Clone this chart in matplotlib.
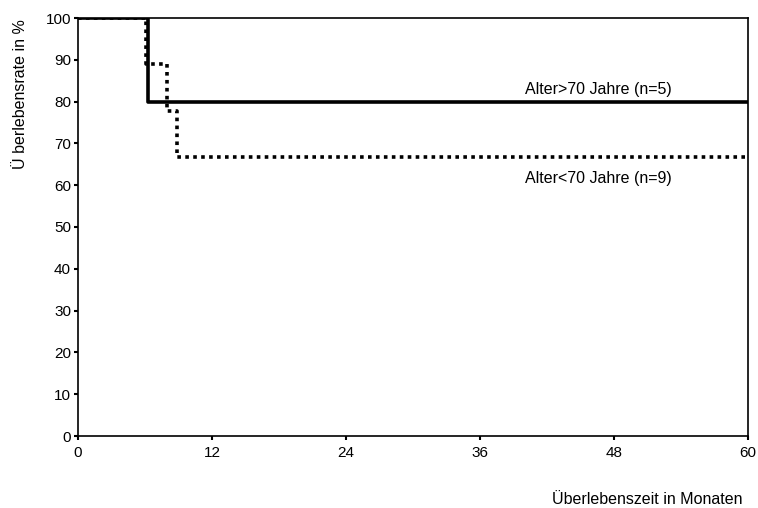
import matplotlib
matplotlib.use("Agg")
import matplotlib.pyplot as plt

plt.rcParams['font.family'] = ['Liberation Sans', 'DejaVu Sans']

# Kaplan-Meier step data (months, survival %)
t_old = [0, 6.3, 60]
s_old = [100, 80, 80]
t_young = [0, 6.1, 8.0, 8.9, 60]
s_young = [100, 88.9, 77.8, 66.7, 66.7]

label_old = "Alter>70 Jahre (n=5)"
label_young = "Alter<70 Jahre (n=9)"
xticks = [0, 12, 24, 36, 48, 60]
yticks = [0, 10, 20, 30, 40, 50, 60, 70, 80, 90, 100]

fig = plt.figure(figsize=(7.58, 5.08), dpi=100)
ax = fig.add_axes([78/758, 1-436/508, (748-78)/758, (436-18)/508])

ax.step(t_young, s_young, where='post', color='black', lw=2.6,
        linestyle=(0, (1, 1.2)))
ax.step(t_old, s_old, where='post', color='black', lw=2.6)

ax.set_xlim(0, 60)
ax.set_ylim(0, 100)
ax.set_xticks(xticks)
ax.set_yticks(yticks)
ax.tick_params(direction='out', length=3, width=1.5, labelsize=11, pad=2)
ax.tick_params(axis='x', pad=4)
for sp in ax.spines.values():
    sp.set_linewidth(1.2)

ax.text(46.6, 82.8, label_old, ha='center', va='center', fontsize=11.5)
ax.text(46.6, 61.7, label_young, ha='center', va='center', fontsize=11.5)

fig.text(21/758, 1-94/508, "Ü berlebensrate in %", rotation=90,
         ha='center', va='center', fontsize=11.5)
fig.text(742/758, 1-500/508, "Überlebenszeit in Monaten", ha='right',
         va='center', fontsize=11.5)

fig.savefig("out.png", dpi=100)
